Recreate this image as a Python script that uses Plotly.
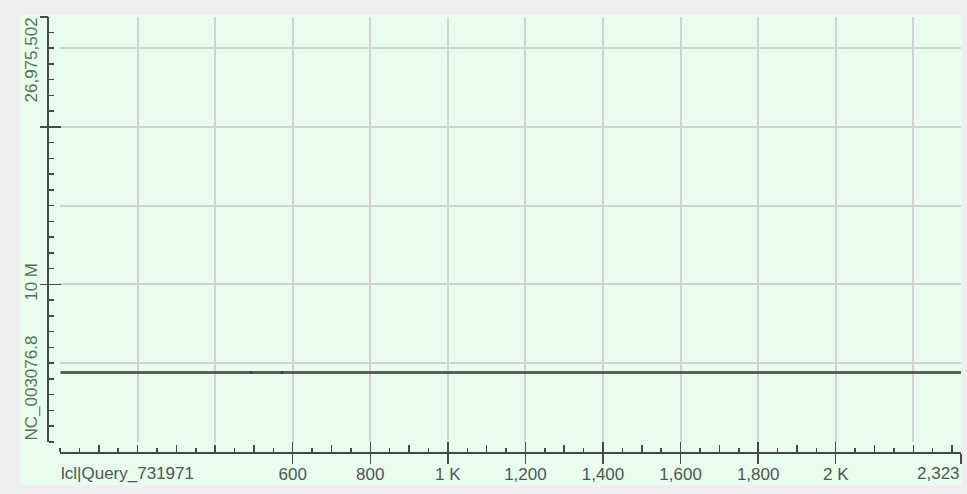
import plotly.graph_objects as go

# ---------------- data ----------------
query_name = "lcl|Query_731971"
subject_name = "NC_003076.8"
query_len = 2323
subject_len = 26975502

# alignment segments (query start/end vs subject start/end)
q_start = [1, 490, 569]
q_end = [496, 575, 2323]
s_start = [4405000, 4405489, 4405568]
s_end = [4405495, 4405574, 4407322]

x_grid_vals = [200, 400, 600, 800, 1000, 1200, 1400, 1600, 1800, 2000, 2200]
x_mid_vals = list(range(100, 2323, 100))
x_label_vals = [600, 800, 1000, 1200, 1400, 1600, 1800, 2000, 2323]
x_label_text = ["600", "800", "1 K", "1,200", "1,400", "1,600", "1,800", "2 K", ""]

y_grid_vals = [5e6, 10e6, 15e6, 20e6, 25e6]
y_major_vals = [10e6, 20e6, subject_len]
y_major_text = ["10 M", "", ""]

top_label = "26,975,502"
end_label = "2,323"

# ---------------- layout geometry ----------------
W, H = 967, 494
ML, MR, MT, MB = 48, 6, 17, 41
PW, PH = W - ML - MR, H - MT - MB
xdom0 = 12 / PW
ydom0 = 11 / PH

GREEN = "#e9fdee"
OUTER = "#efefef"
AXC = "#484848"
GRID = "#d2d2d2"
FONT = "Liberation Sans, Arial, Helvetica, sans-serif"
XTXT = "#4f564f"
YTXT = "#567256"
FS = 17

fig = go.Figure()

for qs, qe, ss, se in zip(q_start, q_end, s_start, s_end):
    fig.add_trace(go.Scatter(
        x=[qs, qe], y=[ss, se], mode="lines",
        line=dict(color="rgba(60,64,60,0.82)", width=3),
        hoverinfo="skip", showlegend=False, xaxis="x", yaxis="y"))

# invisible helper traces so overlay axes exist
for xa, ya in [("x2", "y"), ("x3", "y"), ("x4", "y"), ("x", "y2"), ("x", "y3")]:
    fig.add_trace(go.Scatter(x=[0], y=[0], mode="markers", marker=dict(opacity=0),
                             hoverinfo="skip", showlegend=False, xaxis=xa, yaxis=ya))

common_x = dict(range=[0, query_len], domain=[xdom0, 1], anchor="free", position=0,
                zeroline=False, fixedrange=True)
common_y = dict(range=[0, subject_len], domain=[ydom0, 1], anchor="free", position=0,
                zeroline=False, fixedrange=True)

fig.update_layout(
    width=W, height=H,
    margin=dict(l=ML, r=MR, t=MT, b=MB, pad=0),
    paper_bgcolor=OUTER, plot_bgcolor=GREEN,
    font=dict(family=FONT, size=FS, color=XTXT),
    showlegend=False,
    xaxis=dict(**common_x, showline=True, linecolor=AXC, linewidth=2,
               tickmode="array", tickvals=x_grid_vals, ticks="", showticklabels=False,
               showgrid=True, gridcolor=GRID, gridwidth=2,
               minor=dict(ticks="inside", ticklen=4, tickwidth=1.5, tickcolor=AXC,
                          tickmode="linear", tick0=0, dtick=50, showgrid=False)),
    xaxis2=dict(**common_x, overlaying="x", showline=False, showgrid=False,
                tickmode="array", tickvals=x_mid_vals, ticks="inside", ticklen=8,
                tickwidth=1.5, tickcolor=AXC, showticklabels=False),
    xaxis3=dict(**common_x, overlaying="x", showline=False, showgrid=False,
                tickmode="array", tickvals=x_label_vals, ticks="inside", ticklen=11,
                tickwidth=1.5, tickcolor=AXC, showticklabels=False),
    xaxis4=dict(**common_x, overlaying="x", showline=False, showgrid=False,
                tickmode="array", tickvals=x_label_vals, ticktext=x_label_text,
                ticks="outside", ticklen=10, tickwidth=1.5, tickcolor=AXC,
                ticklabelstandoff=-4,
                showticklabels=True, tickfont=dict(family=FONT, size=FS, color=XTXT)),
    yaxis=dict(**common_y, showline=True, linecolor=AXC, linewidth=2,
               tickmode="array", tickvals=y_grid_vals, ticks="", showticklabels=False,
               showgrid=True, gridcolor=GRID, gridwidth=2,
               minor=dict(ticks="inside", ticklen=5, tickwidth=1.5, tickcolor=AXC,
                          tickmode="linear", tick0=0, dtick=1e6, showgrid=False)),
    yaxis2=dict(**common_y, overlaying="y", showline=False, showgrid=False,
                tickmode="array", tickvals=y_major_vals, ticks="inside", ticklen=12,
                tickwidth=1.5, tickcolor=AXC, showticklabels=False),
    yaxis3=dict(**common_y, overlaying="y", showline=False, showgrid=False,
                tickmode="array", tickvals=y_major_vals, ticktext=y_major_text,
                ticks="outside", ticklen=8, tickwidth=1.5, tickcolor=AXC,
                ticklabelstandoff=-4,
                showticklabels=True, tickangle=-90,
                tickfont=dict(family=FONT, size=FS, color=YTXT)),
    shapes=[dict(type="rect", xref="paper", yref="paper", layer="below",
                 x0=(20 - ML) / PW, x1=(962 - ML) / PW,
                 y0=(H - MB - 485) / PH, y1=(H - MB - 15) / PH,
                 fillcolor=GREEN, line=dict(width=0))],
)

ylab_x = (31 - ML) / PW
xlab_y = -(473 - (H - MB)) / PH

fig.add_annotation(text=top_label, xref="paper", yref="y", x=ylab_x, y=subject_len,
                   textangle=-90, xanchor="center", yanchor="top", showarrow=False,
                   borderpad=0, font=dict(family=FONT, size=FS, color=YTXT))
fig.add_annotation(text=subject_name, xref="paper", yref="y", x=ylab_x, y=0,
                   textangle=-90, xanchor="center", yanchor="bottom", showarrow=False,
                   borderpad=0, font=dict(family=FONT, size=FS, color=YTXT))
fig.add_annotation(text=query_name, xref="x", yref="paper", x=0, y=xlab_y,
                   xanchor="left", yanchor="middle", showarrow=False,
                   borderpad=0, font=dict(family=FONT, size=FS, color=XTXT))
fig.add_annotation(text=end_label, xref="x", yref="paper", x=query_len, y=xlab_y,
                   xanchor="right", yanchor="middle", showarrow=False,
                   borderpad=0, font=dict(family=FONT, size=FS, color=XTXT))

fig.write_html(
    "out.html",
    config={"displayModeBar": False, "staticPlot": True},
    post_script="document.body.style.margin='0';document.body.style.overflow='hidden';",
)
